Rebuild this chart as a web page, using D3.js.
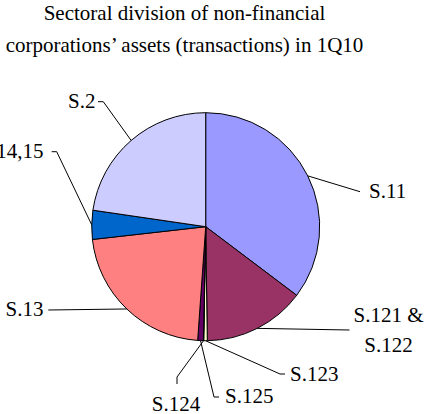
<!DOCTYPE html>
<html>
<head>
<meta charset="utf-8">
<script src="https://cdn.jsdelivr.net/npm/d3@7"></script>
<style>
  html, body { margin: 0; padding: 0; background: #fff; }
  svg { display: block; }
  svg text { font-family: "Liberation Serif", "Times New Roman", Times, "DejaVu Serif", serif; fill: #000; }
</style>
</head>
<body>
<svg id="chart" width="425" height="414"></svg>
<script>
// ---- data ----
const titleLines = ["Sectoral division of non-financial", "corporations\u2019 assets (transactions) in 1Q10"];
const categories = ["S.11", "S.121 & S.122", "S.123", "S.124", "S.125", "S.13", "S.14,15", "S.2"];
const values = [35.3, 14.5, 0.5, 0.05, 0.8, 22.1, 4.1, 22.7];
const colors = ["#9999FF", "#993366", "#FFFFCC", "#CCFFFF", "#660066", "#FF8080", "#0066CC", "#CCCCFF"];

// ---- layout (positions only) ----
const FONT = "'Liberation Serif', 'Times New Roman', Times, 'DejaVu Serif', serif";
const cx = 205.7, cy = 226.7, R = 114;
const labelLayout = {
  "S.11":          { lines: ["S.11"], x: 369, y: 198, anchor: "start", path: [[360, 191.7]] },
  "S.121 & S.122": { lines: ["S.121 &", "S.122"], x: 388.5, y: 322, anchor: "middle", lh: 29.5, path: [[349.5, 330]] },
  "S.123":         { lines: ["S.123"], x: 290, y: 381, anchor: "start", path: [[280, 374], [285, 374]] },
  "S.124":         { lines: ["S.124"], x: 176, y: 411, anchor: "middle", path: [[177, 377], [177, 384]] },
  "S.125":         { lines: ["S.125"], x: 225, y: 403, anchor: "start", path: [[214, 397], [219, 397]] },
  "S.13":          { lines: ["S.13"], x: 43.5, y: 316, anchor: "end", path: [[48.3, 310]] },
  "S.14,15":       { lines: ["S.14,15"], x: 43.5, y: 158, anchor: "end", path: [[56.7, 151.7], [51.7, 151.7]] },
  "S.2":           { lines: ["S.2"], x: 95.5, y: 108, anchor: "end", path: [[103.3, 101.7], [98, 101.7]] }
};

const svg = d3.select("#chart");

// title
svg.append("g").selectAll("text").data(titleLines).join("text")
  .attr("x", 184.5).attr("y", (d, i) => 20 + i * 32)
  .attr("text-anchor", "middle").attr("font-family", FONT).attr("font-size", 21).text(d => d);

const data = categories.map((c, i) => ({ name: c, value: values[i], color: colors[i] }));
const pie = d3.pie().value(d => d.value).sort(null).startAngle(0).endAngle(2 * Math.PI);
const arcs = pie(data);
const arc = d3.arc().innerRadius(0).outerRadius(R);

const g = svg.append("g").attr("transform", `translate(${cx},${cy})`);
g.selectAll("path").data(arcs).join("path")
  .attr("d", arc).attr("fill", d => d.data.color)
  .attr("stroke", "#000").attr("stroke-width", 1).attr("stroke-linejoin", "round");

// leader lines & labels
const lines = svg.append("g");
arcs.forEach(a => {
  const L = labelLayout[a.data.name];
  const mid = (a.startAngle + a.endAngle) / 2;
  const p0 = [cx + R * Math.sin(mid), cy - R * Math.cos(mid)];
  const pts = [p0].concat(L.path);
  lines.append("path")
    .attr("d", d3.line()(pts))
    .attr("fill", "none").attr("stroke", "#000").attr("stroke-width", 1);
  const t = svg.append("text")
    .attr("x", L.x).attr("y", L.y)
    .attr("text-anchor", L.anchor).attr("font-family", FONT).attr("font-size", 21);
  L.lines.forEach((ln, i) => {
    t.append("tspan").attr("x", L.x).attr("y", L.y + i * (L.lh || 0)).text(ln);
  });
});
</script>
</body>
</html>
